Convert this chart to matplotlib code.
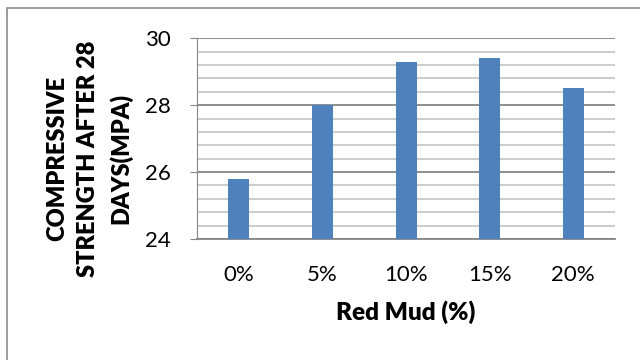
import matplotlib.pyplot as plt
from matplotlib.patches import Rectangle
from matplotlib.ticker import MultipleLocator
import numpy as np

categories = ["0%", "5%", "10%", "15%", "20%"]
strength = [25.8, 28.0, 29.3, 29.4, 28.5]

plt.rcParams['font.family'] = ['Lato', 'DejaVu Sans']

fig = plt.figure(figsize=(6.4, 3.6), dpi=100)
ax = fig.add_axes([0.308, 0.336, 0.653, 0.558])

# chart frame around everything
fig.patches.append(Rectangle((7 / 640, -0.05), 1.0, 1 - 8 / 360 + 0.05,
                             transform=fig.transFigure, fill=False,
                             edgecolor="#8c8c8c", linewidth=1.2))

x = np.arange(len(categories))
ax.bar(x, strength, width=0.25, color="#4f81bd", zorder=3)

ax.set_ylim(24, 30)
ax.set_xlim(-0.5, len(categories) - 0.5)
ax.yaxis.set_major_locator(MultipleLocator(2))
ax.yaxis.set_minor_locator(MultipleLocator(0.4))
ax.grid(which="major", axis="y", color="#868686", linewidth=1.3, zorder=0)
ax.grid(which="minor", axis="y", color="#bfbfbf", linewidth=1.1, zorder=0)

ax.set_xticks(x)
ax.set_xticklabels(categories, fontsize=16)
ax.tick_params(axis="x", length=0, pad=19)
ax.tick_params(axis="y", which="major", length=5, color="#868686", labelsize=16, pad=14)
ax.tick_params(axis="y", which="minor", length=0)

for side in ["top", "right"]:
    ax.spines[side].set_visible(False)
ax.spines["left"].set_color("#868686")
ax.spines["bottom"].set_color("#868686")
ax.spines["bottom"].set_linewidth(1.3)

ax.set_xlabel("Red Mud (%)", fontsize=17.5, fontweight="heavy", labelpad=11)
ax.set_ylabel("COMPRESSIVE\nSTRENGTH AFTER 28\nDAYS(MPA)", fontsize=17,
              fontweight="heavy", linespacing=1.5)
ax.yaxis.set_label_coords(-0.155, 0.40)

fig.savefig("out.png", dpi=100)
